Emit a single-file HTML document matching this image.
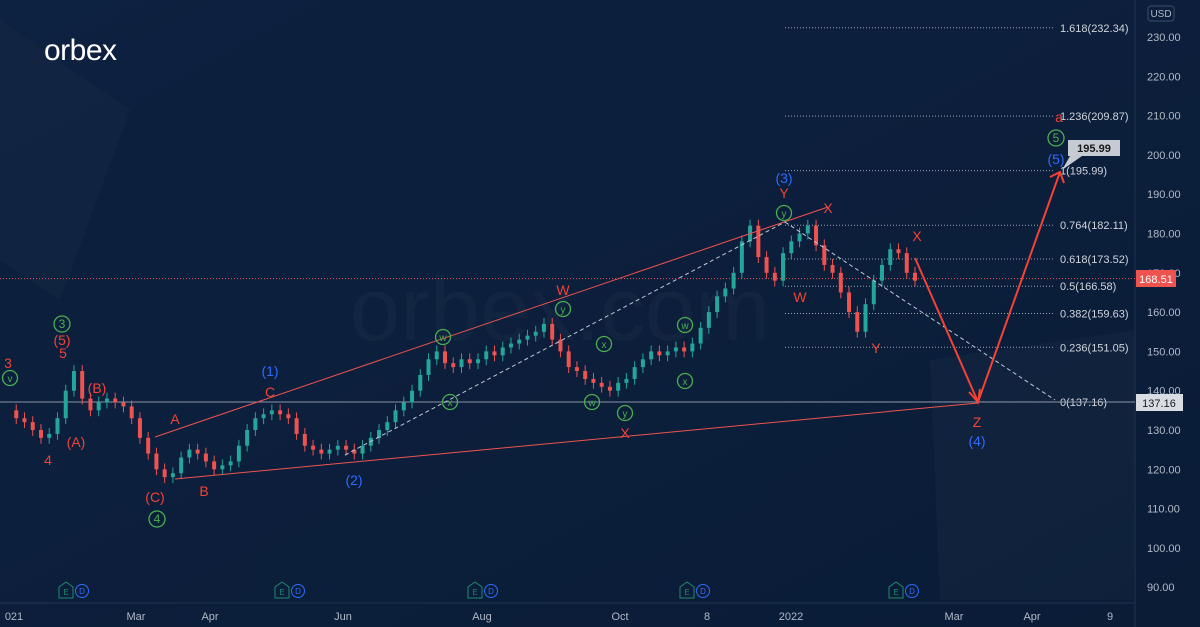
<!DOCTYPE html>
<html><head><meta charset="utf-8"><style>
html,body{margin:0;padding:0;background:#0b1d38;overflow:hidden;}
svg{display:block;}
svg text{font-family:"Liberation Sans",sans-serif;}
</style></head><body>
<svg id="chart" width="1200" height="627" viewBox="0 0 1200 627" xmlns="http://www.w3.org/2000/svg">
<defs><linearGradient id="bg" x1="0" y1="0" x2="1" y2="1"><stop offset="0" stop-color="#0d2140"/><stop offset="1" stop-color="#0a1c36"/></linearGradient></defs>
<rect width="1200" height="627" fill="url(#bg)"/>
<polygon points="0,20 130,110 60,300 0,260" fill="#ffffff" opacity="0.02"/>
<polygon points="930,360 1135,330 1135,600 940,600" fill="#ffffff" opacity="0.025"/>
<text x="560" y="340" font-size="90" fill="#ffffff" opacity="0.025" text-anchor="middle">orbex.com</text>
<line x1="1135" y1="0" x2="1135" y2="627" stroke="#1e3352"/>
<line x1="0" y1="603" x2="1135" y2="603" stroke="#1e3352"/>
<g id="yaxis"></g>
<g id="xaxis"></g>
<g id="fib"></g>
<line x1="0" y1="402" x2="1135" y2="402" stroke="#8a94a6" stroke-width="1"/>
<line x1="0" y1="278.6" x2="1135" y2="278.6" stroke="#ef5350" stroke-width="1" stroke-dasharray="1,2"/>
<g id="candles"></g>
<line x1="155" y1="437" x2="828" y2="207" stroke="#ef5350" stroke-width="1"/>
<line x1="175" y1="479" x2="978" y2="403" stroke="#ef5350" stroke-width="1"/>
<line x1="345" y1="455" x2="785" y2="222" stroke="#c0c8d6" stroke-width="1" stroke-dasharray="4,3"/>
<line x1="785" y1="222" x2="1055" y2="400" stroke="#c0c8d6" stroke-width="1" stroke-dasharray="4,3"/>
<polyline points="915,258 978,402 1060,172" fill="none" stroke="#f44336" stroke-width="2"/>
<polyline points="969,392 978,402 980,389" fill="none" stroke="#f44336" stroke-width="2"/>
<polyline points="1050,177 1060,172 1064,183" fill="none" stroke="#f44336" stroke-width="2"/>
<g id="labels"></g>
<g><polygon points="1068,140 1120,140 1120,156 1082,156 1062,170 1070,156 1068,156" fill="#c5cad3"/><text x="1094" y="152" font-size="11" fill="#1a1a1a" text-anchor="middle" font-weight="bold">195.99</text></g>
<rect x="1136" y="270" width="40" height="17" fill="#ef5350"/>
<text x="1156" y="283" font-size="11" fill="#fff" text-anchor="middle">168.51</text>
<rect x="1136" y="394" width="47" height="17" fill="#d8dce3"/>
<text x="1159" y="407" font-size="11" fill="#1a1a1a" text-anchor="middle">137.16</text>
<rect x="1148" y="6" width="26" height="15" rx="3" fill="none" stroke="#3a4d6b"/>
<text x="1161" y="17" font-size="10" fill="#b2b9c6" text-anchor="middle">USD</text>
<g><text x="44" y="60" font-size="30" fill="#fff" letter-spacing="-0.5">orbex</text></g>
<g id="events"></g>
</svg>
<script>
const yTicks=[230,220,210,200,190,180,170,160,150,140,130,120,110,100,90];
const xLabels=["021","Mar","Apr","Jun","Aug","Oct","8","2022","Mar","Apr","9"];
const xLabelPos=[14,136,210,343,482,620,707,791,954,1032,1110];
const fibNames=["1.618","1.236","1","0.764","0.618","0.5","0.382","0.236","0"];
const fibValues=[232.34,209.87,195.99,182.11,173.52,166.58,159.63,151.05,137.16];
const closes=[135,133,132,130,128,129,133,140,145,138,135,137,138,137,136,133,128,124,120,118,119,123,125,124,122,120,121,122,126,130,133,134,135,134,133,129,126,125,124,125,126,125,124,126,128,130,132,135,137,140,144,148,150,147,146,148,147,148,150,149,151,152,153,154,155,157,153,150,146,145,143,142,141,140,142,143,146,148,150,149,150,151,150,152,156,160,164,166,170,178,182,174,170,168,175,178,180,182,177,172,170,165,160,155,162,168,172,176,175,170,168];
const SCALE_TOP=230,Y0=37,PX=3.93;
function py(p){return Y0+(SCALE_TOP-p)*PX;}
const NS="http://www.w3.org/2000/svg";
function mk(tag,attrs,parent,txt){const e=document.createElementNS(NS,tag);for(const k in attrs)e.setAttribute(k,attrs[k]);if(txt!==undefined)e.textContent=txt;parent.appendChild(e);return e;}
const ya=document.getElementById('yaxis');
yTicks.forEach(v=>{const t=mk('text',{x:1147,y:py(v)+4,'font-size':11,fill:'#b2b9c6'},ya,v.toFixed(2));

});
const xa=document.getElementById('xaxis');
xLabels.forEach((l,i)=>{const t=mk('text',{x:xLabelPos[i],y:620,'font-size':11,fill:'#b2b9c6','text-anchor':'middle'},xa,l);

});
const fg=document.getElementById('fib');
fibValues.forEach((v,i)=>{const y=py(v);
const l=mk('line',{x1:785,y1:y,x2:1055,y2:y,stroke:'#9aa3b2','stroke-dasharray':'1,2'},fg);


const t=mk('text',{x:1060,y:y+4,'font-size':11,fill:'#d1d4dc'},fg,fibNames[i]+'('+v.toFixed(2)+')');

});
const cg=document.getElementById('candles');
const X0=8,X1=915,step=(X1-X0)/(closes.length-1);
for(let i=1;i<closes.length;i++){const o=closes[i-1],c=closes[i],x=X0+i*step;const up=c>=o;const col=up?'#26a69a':'#ef5350';
const hi=Math.max(o,c)+1.5,lo=Math.min(o,c)-1.5;
const w=mk('line',{x1:x,y1:py(hi),x2:x,y2:py(lo),stroke:col},cg);


const top=py(Math.max(o,c)),h=Math.max(1,Math.abs(py(o)-py(c)));
const b=mk('rect',{x:x-2,y:top,width:4,height:h,fill:col},cg);

}
const R='#f44336',B='#2f6bff',G='#4caf50';
const labels=[["3",8,368,R],["(5)",62,345,R],["5",63,358,R],["(B)",97,393,R],["(A)",76,447,R],["4",48,465,R],["(C)",155,502,R],["A",175,424,R],["B",204,496,R],["C",270,397,R],["(1)",270,376,B],["(2)",354,485,B],["W",563,295,R],["X",625,438,R],["(3)",784,183,B],["Y",784,198,R],["X",828,213,R],["W",800,302,R],["X",917,241,R],["Y",876,353,R],["Z",977,427,R],["(4)",977,446,B],["a",1059,122,R],["(5)",1056,164,B]];
const lg=document.getElementById('labels');
labels.forEach(a=>{const t=mk('text',{x:a[1],y:a[2],'font-size':14,fill:a[3],'text-anchor':'middle'},lg,a[0]);

});
const circ=[["3",62,324],["4",157,519],["w",443,337],["x",450,402],["y",563,309],["x",604,344],["w",592,402],["y",625,413],["w",685,325],["x",685,381],["y",784,213],["5",1056,138],["v",10,378]];
circ.forEach(a=>{const g=mk('g',{},lg);


const isNum=/[0-9]/.test(a[0]);
mk('circle',{cx:a[1],cy:a[2],r:isNum?8:7.5,fill:'none',stroke:G,'stroke-width':1.3},g);
mk('text',{x:a[1],y:a[2]+4,'font-size':isNum?12:10,fill:G,'text-anchor':'middle'},g,a[0]);});
const evX=[66,282,475,687,896];
const eg=document.getElementById('events');
evX.forEach(x=>{const g=mk('g',{},eg);


mk('path',{d:'M'+(x-7)+',598 v-11 l7,-5 l7,5 v11 z',fill:'none',stroke:'#1f8a6a'},g);
mk('text',{x:x,y:595,'font-size':8,fill:'#1f8a6a','text-anchor':'middle'},g,'E');
mk('circle',{cx:x+16,cy:591,r:6.5,fill:'none',stroke:'#2f6bff'},g);
mk('text',{x:x+16,y:594,'font-size':8,fill:'#2f6bff','text-anchor':'middle'},g,'D');});
</script>
</body></html>
